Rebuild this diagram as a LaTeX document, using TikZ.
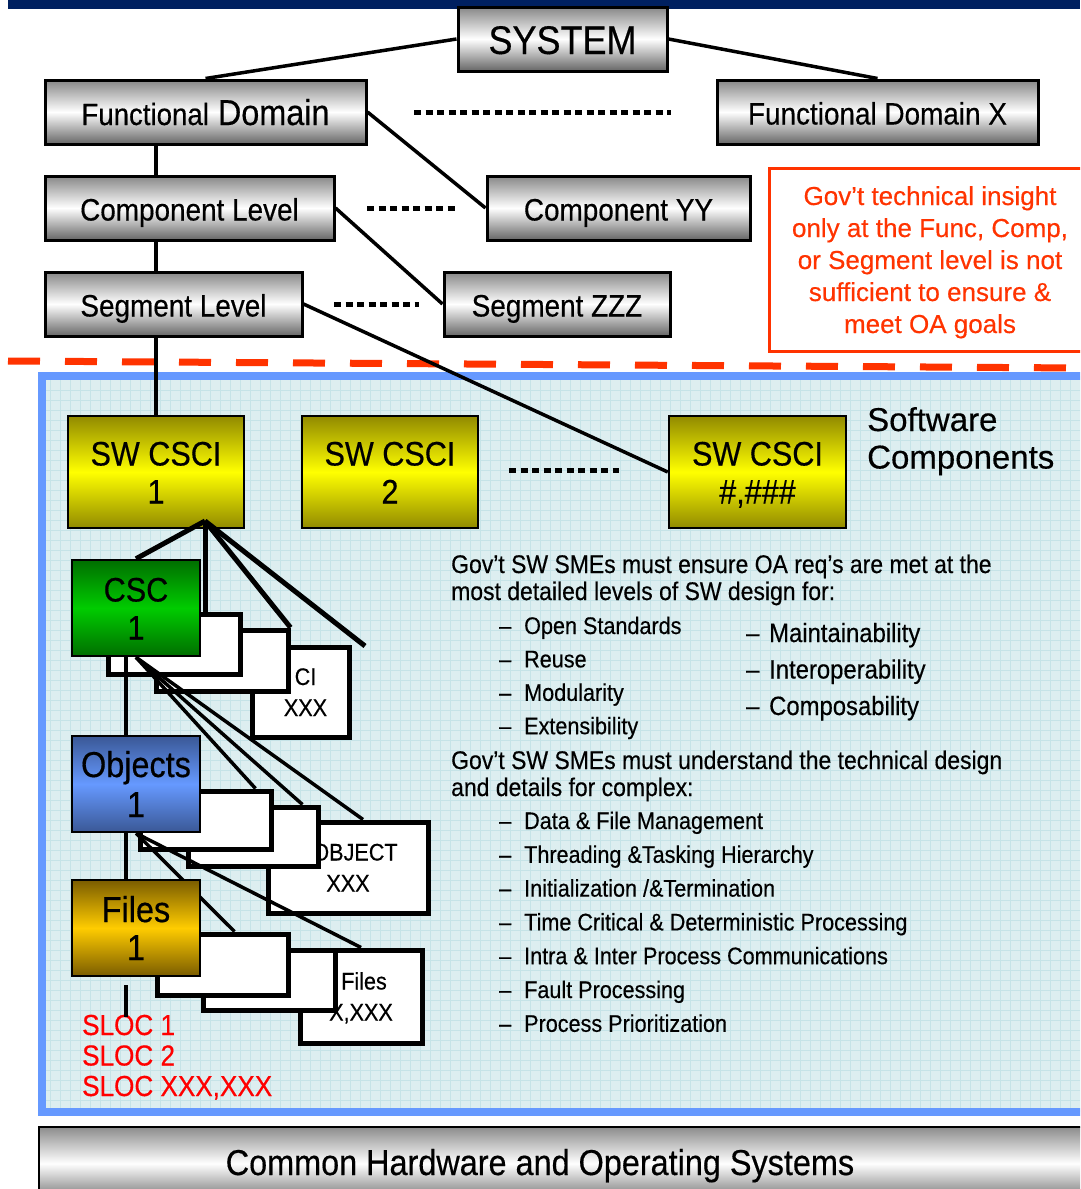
\documentclass[tikz,border=0pt]{standalone}
\usepackage{fontspec}
\setmainfont{Liberation Sans}[FakeStretch=0.9,FakeBold=0.4]
\newfontfamily\plainsf{Liberation Sans}[FakeBold=0.4]
\definecolor{navy}{RGB}{0,32,96}
\definecolor{redor}{RGB}{255,51,0}
\definecolor{bluefr}{RGB}{102,153,255}
\definecolor{bgcyan}{RGB}{221,238,240}
\definecolor{gridc}{RGB}{198,227,231}
\definecolor{csciyel}{RGB}{255,255,0}
\definecolor{cscidark}{RGB}{145,138,0}
\definecolor{cscgreen}{RGB}{0,204,0}
\definecolor{cscdark}{RGB}{0,110,0}
\definecolor{objblue}{RGB}{102,153,255}
\definecolor{objdark}{RGB}{58,88,150}
\definecolor{filegold}{RGB}{255,204,0}
\definecolor{filedark}{RGB}{122,92,0}
\definecolor{slocred}{RGB}{255,0,0}

\begin{document}
\begin{tikzpicture}[x=1pt,y=-1pt,
 conn/.style={line width=3.5pt},
 dotln/.style={line width=5pt,dash pattern=on 7pt off 4.5pt},
 fan/.style={line width=5pt},
 thinfan/.style={line width=3.5pt},
 gbox/.style={draw,line width=3pt,inner sep=0pt,top color=black!47,bottom color=black!60,middle color=white,
   minimum height=64pt,text height=25pt,text depth=0pt,font=\fontsize{31}{36}\selectfont},
 cbox/.style 2 args={draw,line width=2.5pt,inner sep=0pt,align=center,top color=#2,bottom color=#2,middle color=#1,
   minimum width=128pt,minimum height=96pt,text height=63pt,text depth=0pt,font=\fontsize{34}{38}\selectfont},
 wbox/.style={draw,fill=white,line width=5pt,inner sep=0pt,align=center,
   text height=48pt,text depth=0pt,font=\fontsize{24}{31}\selectfont},
 item/.style={anchor=base west,inner sep=0pt,align=left,font=\fontsize{24}{27}\selectfont}]
\useasboundingbox (0,0) rectangle (1080,1189);
\clip (0,0) rectangle (1080,1189);
\fill[navy] (8,0) rectangle (1080,9);
\draw[redor,line width=7pt,dash pattern=on 32pt off 25pt] (8,361) -- (1080,368);
\fill[bgcyan] (42,376) rectangle (1090,1112);
\foreach \gx in {50,60,...,1080} \draw[gridc,line width=0.8pt] (\gx,380) -- (\gx,1108);
\foreach \gy in {390,400,...,1100} \draw[gridc,line width=0.8pt] (46,\gy) -- (1080,\gy);
\draw[bluefr,line width=8pt] (42,376) rectangle (1090,1112);

\draw[redor,line width=3pt] (769,168) rectangle (1090,351);
\node[anchor=base,inner sep=0pt,align=center,text=redor,font=\plainsf\fontsize{26}{32}\selectfont] (oa) at (930,333)
  {Gov’t technical insight\\only at the Func, Comp,\\or Segment level is not\\sufficient to ensure \&\\meet OA goals};

\node[gbox,minimum width=209pt,text height=30pt,font=\fontsize{40}{44}\selectfont] (sys) at (562.5,39) {SYSTEM};
\node[gbox,minimum width=321pt,text height=26pt,font=\fontsize{36}{40}\selectfont] (fd) at (205.5,112)
  {{\fontsize{30.7}{36}\selectfont Functional} Domain};
\node[gbox,minimum width=321pt] (fdx) at (877.5,112) {Functional Domain X};
\node[gbox,minimum width=289pt] (cl) at (189.5,208) {Component Level};
\node[gbox,minimum width=263pt] (cyy) at (618.5,208) {Component YY};
\node[gbox,minimum width=257pt] (sl) at (173.5,304) {Segment Level};
\node[gbox,minimum width=226pt] (szzz) at (557,304) {Segment ZZZ};

\node[cbox={csciyel}{cscidark},minimum width=176pt,minimum height=112pt] (csci1) at (156,472) {SW CSCI\\1};
\node[cbox={csciyel}{cscidark},minimum width=176pt,minimum height=112pt] (csci2) at (390,472) {SW CSCI\\2};
\node[cbox={csciyel}{cscidark},minimum width=177pt,minimum height=112pt] (csciN) at (757.5,472) {SW CSCI\\\#,\#\#\#};
\node[anchor=base west,inner sep=0pt,align=left,font=\plainsf\fontsize{33}{37.5}\selectfont] (swc) at (867,468.5)
  {Software\\Components};

\draw[conn] (sys.west) -- (fd.north);
\draw[conn] (sys.east) -- (fdx.north);
\draw[conn] (fd.east) -- (cyy.west);
\draw[conn] (cl.east) -- (szzz.west);
\draw[conn] (sl.east) -- (csciN.west);
\draw[conn] (csci1.north |- fd.south) -- (csci1.north |- cl.north);
\draw[conn] (csci1.north |- cl.south) -- (csci1.north |- sl.north);
\draw[conn] (csci1.north |- sl.south) -- (csci1.north);

\draw[dotln] (414,112) -- (671,112);
\draw[dotln] (367,208) -- (455,208);
\draw[dotln] (334,304) -- (419,304);
\draw[dotln] (509,470) -- (619,470);

\node[wbox,minimum width=97pt,minimum height=90pt] (cscw3) at (300.5,692) {\hspace*{10pt}CI\\\hspace*{10pt}XXX};
\node[wbox,minimum width=132pt,minimum height=61pt] (cscw2) at (222,660.5) {};
\node[wbox,minimum width=132pt,minimum height=60pt] (cscw1) at (174,644) {};
\node[cbox={cscgreen}{cscdark}] (csc1) at (136,608) {CSC\\1};
\coordinate (apx) at (205,521);
\coordinate (ciend) at (365,646);
\draw[fan] (apx) -- (csc1.north);
\draw[fan] (apx) -- (apx |- cscw1.north);
\draw[fan] (apx) -- (cscw2.north east);
\draw[fan] (apx) -- (ciend);

\node[wbox,minimum width=160pt,minimum height=91pt] (objw3) at (348,867.5) {\hspace*{14pt}OBJECT\\XXX};
\node[wbox,minimum width=130pt,minimum height=59pt] (objw2) at (253,836.5) {};
\node[wbox,minimum width=131pt,minimum height=58pt] (objw1) at (205.5,820) {};
\node[cbox={objblue}{objdark},font=\fontsize{36}{40}\selectfont,text height=66pt] (obj1) at (136,784) {Objects\\1};
\draw[thinfan] ([xshift=-10pt]csc1.south) -- ([xshift=-10pt]obj1.north);
\draw[thinfan] (csc1.south) -- ([xshift=-18pt]objw1.north east);
\draw[thinfan] (csc1.south) -- ([xshift=-18pt]objw2.north east);
\draw[thinfan] (csc1.south) -- ([xshift=15pt]objw3.north);

\node[wbox,minimum width=122pt,minimum height=93pt] (filew3) at (361,996.5) {\hspace*{6pt}Files\\X,XXX};
\node[wbox,minimum width=132pt,minimum height=60pt] (filew2) at (269,980) {};
\node[wbox,minimum width=131pt,minimum height=61pt] (filew1) at (222.5,964.5) {};
\draw[thinfan] ([xshift=-10pt]obj1.south) -- ([xshift=-10pt,yshift=-48pt]obj1.south);
\draw[thinfan] (obj1.south) -- ([xshift=12pt]filew1.north);
\draw[thinfan] (obj1.south) -- (filew3.north);
\node[cbox={filegold}{filedark},font=\fontsize{36}{38}\selectfont,text height=64pt] (files1) at (136,928) {Files\\1};

\node[anchor=base west,inner sep=0pt,align=left,text=slocred,font=\fontsize{29}{30.5}\selectfont] (sloc) at (82,1096)
  {SLOC 1\\SLOC 2\\SLOC XXX,XXX};
\coordinate (slocTop) at (126,985);
\draw[conn] (slocTop) -- ([yshift=-2pt]slocTop |- sloc.north);

\node[item,font=\fontsize{25.5}{27}\selectfont] (req) at (451,600)
  {Gov’t SW SMEs must ensure OA req’s are met at the\\most detailed levels of SW design for:};
\foreach \t [count=\i] in {Open Standards,Reuse,Modularity,Extensibility}
  \node[item] (os\i) at (499,{634+33.4*(\i-1)}) {\makebox[25pt][l]{–}\t};
\foreach \t [count=\i] in {Maintainability,Interoperability,Composability}
  \node[item,font=\fontsize{26.5}{30}\selectfont] (mt\i) at (746,{642+36.5*(\i-1)}) {\makebox[23pt][l]{–}\t};
\node[item,font=\fontsize{25.5}{27}\selectfont] (und) at (451,796)
  {Gov’t SW SMEs must understand the technical design\\and details for complex:};
\foreach \t [count=\i] in {Data \& File Management,Threading \&Tasking Hierarchy,Initialization /\&Termination,
  Time Critical \& Deterministic Processing,Intra \& Inter Process Communications,Fault Processing,Process Prioritization}
  \node[item] (cx\i) at (499,{829+33.8*(\i-1)}) {\makebox[25pt][l]{–}\t};

\draw[line width=2.5pt,top color=black!45,bottom color=black!55,middle color=white] (39,1127) rectangle (1090,1200);
\node[anchor=base,inner sep=0pt,font=\fontsize{36}{40}\selectfont] (hw) at (540,1175) {Common Hardware and Operating Systems};
\end{tikzpicture}
\end{document}
